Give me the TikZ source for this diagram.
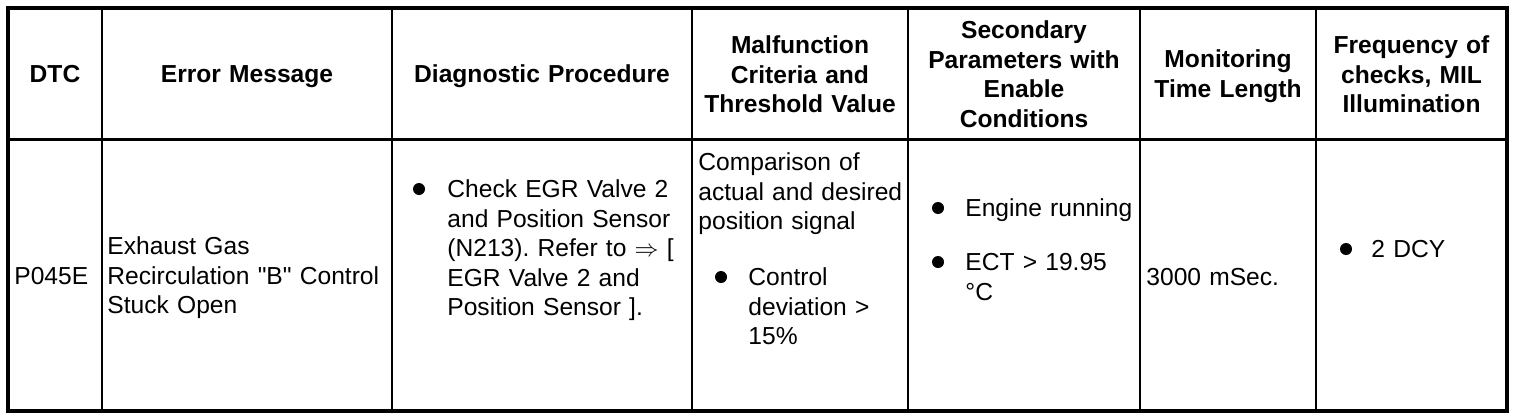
\documentclass[tikz,border=0pt]{standalone}
\usepackage{fontspec}
\setmainfont{Liberation Sans}

\begin{document}
\frenchspacing
\begin{tikzpicture}[x=0.5pt,y=-0.5pt,
        colhead/.style={font=\bfseries\fontsize{12.3}{14.75}\selectfont, align=center, text width=#1, inner sep=0pt, anchor=base},
        celltext/.style={font=\fontsize{12.3}{14.75}\selectfont, align=left, text width=#1, inner sep=0pt, anchor=base west},
        listdot/.style={circle, fill, inner sep=0pt, minimum size=6pt},
        ruling/.style={line width=1.2pt},
        outerframe/.style={line width=2pt}]
    \useasboundingbox (0,0) rectangle (1520,418);
    \draw[outerframe] (7.5,7.5) rectangle (1507,411);
    \draw[line width=1.5pt] (7.5,139) -- (1507,139);
    \foreach \x in {102,392,692,908,1140,1316}
        \draw[ruling] (\x,7.5) -- (\x,411);

    \node[colhead=90] (dtc) at (55,82.75) {DTC};
    \node[colhead=280] (errmsg) at (247,82.75) {Error Message};
    \node[colhead=290] (diagproc) at (542,82.75) {Diagnostic Procedure};
    \node[colhead=210] (malfunc) at (800,53.75) {Malfunction\\Criteria and\\Threshold Value};
    \node[colhead=225] (secparam) at (1024,38.75) {Secondary\\Parameters with\\Enable\\Conditions};
    \node[colhead=170] (montime) at (1228,67.75) {Monitoring\\Time Length};
    \node[colhead=185] (freqmil) at (1411.5,53.75) {Frequency of\\checks, MIL\\Illumination};

    \node[celltext=85] (dtcval) at (14,284.75) {P045E};
    \node[celltext=285] (errval) at (107,254.75) {Exhaust Gas\\Recirculation \textquotedbl B\textquotedbl{} Control\\Stuck Open};
    \node[listdot] (diagdot) at (419,189) {};
    \node[celltext=240] (diagval) at (447,197.75) {Check EGR Valve 2\\and Position Sensor\\(N213). Refer to $\Rightarrow$ [\\EGR Valve 2 and\\Position Sensor ].};
    \node[celltext=210] (malval) at (698,170.75) {Comparison of\\actual and desired\\position signal};
    \node[listdot] (maldot) at (721,277) {};
    \node[celltext=155] (malitem) at (748,285.75) {Control\\deviation >\\15\%};
    \node[listdot] (secdotA) at (938,208) {};
    \node[celltext=172] (secitemA) at (965,216.75) {Engine running};
    \node[listdot] (secdotB) at (938,262) {};
    \node[celltext=172] (secitemB) at (965,270.75) {ECT > 19.95\\°C};
    \node[celltext=165] (monval) at (1146,285.75) {3000 mSec.};
    \node[listdot] (freqdot) at (1346,249) {};
    \node[celltext=130] (freqval) at (1371,257.75) {2 DCY};
\end{tikzpicture}
\end{document}
